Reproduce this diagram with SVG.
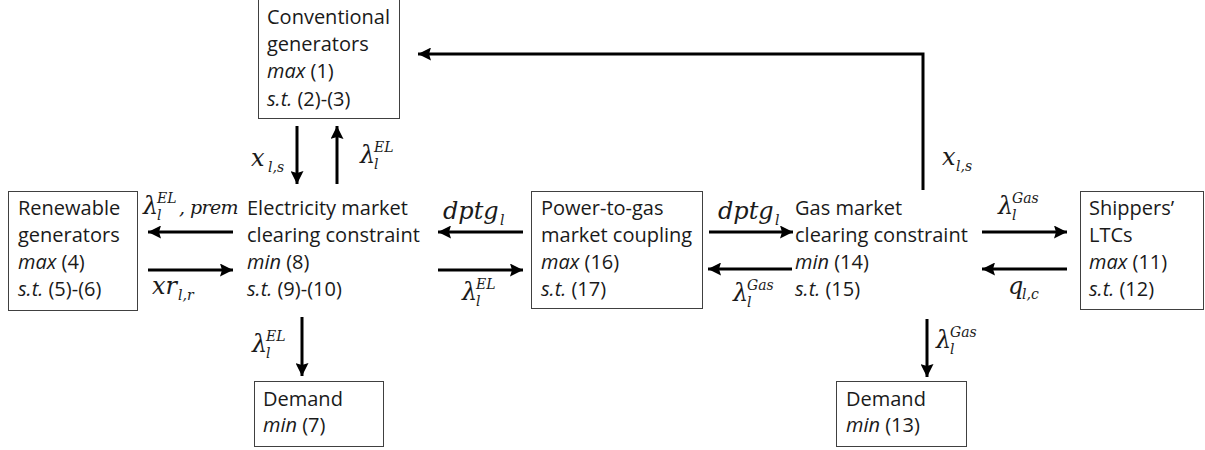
<svg xmlns="http://www.w3.org/2000/svg" width="1205" height="450" viewBox="0 0 1205 450">
  <style>
    .box { fill: #ffffff; stroke: #404040; stroke-width: 1; }
    .t { font-family: "Open Sans", "Liberation Sans", sans-serif; font-size: 20px; fill: #1a1a1a; }
    .i { font-style: italic; }
    .m { font-family: "DejaVu Serif", "Liberation Serif", serif; font-style: italic; font-size: 24px; fill: #1a1a1a; }
    .s { font-size: 14px; }
    .arrow { fill: none; stroke: #000000; stroke-width: 3; marker-end: url(#head); }
  </style>
  <defs>
    <marker id="head" markerUnits="userSpaceOnUse" markerWidth="14" markerHeight="13" refX="13" refY="6.5" orient="auto">
      <path d="M0,0 L13,6.5 L0,13 L2,6.5 z" fill="#000000"/>
    </marker>
  </defs>
  <rect width="1205" height="450" fill="#ffffff"/>

  <!-- connectors -->
  <g id="connectors">
    <line class="arrow" x1="297" y1="126" x2="297" y2="184"/>
    <line class="arrow" x1="337" y1="184" x2="337" y2="126"/>
    <line class="arrow" x1="233" y1="232" x2="148" y2="232"/>
    <line class="arrow" x1="148" y1="270" x2="233" y2="270"/>
    <line class="arrow" x1="523" y1="232" x2="438" y2="232"/>
    <line class="arrow" x1="438" y1="270" x2="523" y2="270"/>
    <line class="arrow" x1="709" y1="232" x2="793" y2="232"/>
    <line class="arrow" x1="792" y1="269" x2="708" y2="269"/>
    <line class="arrow" x1="982" y1="232" x2="1067" y2="232"/>
    <line class="arrow" x1="1067" y1="269" x2="982" y2="269"/>
    <line class="arrow" x1="302" y1="317" x2="302" y2="376"/>
    <line class="arrow" x1="927" y1="319" x2="927" y2="377"/>
    <polyline class="arrow" points="923,190 923,54 418,54"/>

    <!-- connector labels -->
    <text class="m" x="251" y="166" font-size="27">x<tspan class="s" x="268" y="172">l,s</tspan></text>
    <text class="m" x="360" y="163">λ<tspan class="s" x="374" y="152">EL</tspan><tspan class="s" x="374" y="169">l</tspan></text>
    <text class="m" x="143" y="214">λ<tspan class="s" x="157" y="203">EL</tspan><tspan class="s" x="157" y="220">l</tspan><tspan x="179" y="214" font-size="19" letter-spacing="-0.6">, prem</tspan></text>
    <text class="m" x="152" y="294">xr<tspan class="s" x="178" y="300">l,r</tspan></text>
    <text class="m" x="443" y="219">dptg<tspan class="s" x="500" y="225">l</tspan></text>
    <text class="m" x="462" y="300">λ<tspan class="s" x="476" y="289">EL</tspan><tspan class="s" x="476" y="306">l</tspan></text>
    <text class="m" x="718" y="219">dptg<tspan class="s" x="775" y="225">l</tspan></text>
    <text class="m" x="733" y="301">λ<tspan class="s" x="747" y="290">Gas</tspan><tspan class="s" x="747" y="307">l</tspan></text>
    <text class="m" x="998" y="214">λ<tspan class="s" x="1012" y="203">Gas</tspan><tspan class="s" x="1012" y="220">l</tspan></text>
    <text class="m" x="1008" y="294">q<tspan class="s" x="1022" y="299">l,c</tspan></text>
    <text class="m" x="942" y="165">x<tspan class="s" x="956" y="171">l,s</tspan></text>
    <text class="m" x="252" y="352">λ<tspan class="s" x="266" y="341">EL</tspan><tspan class="s" x="266" y="358">l</tspan></text>
    <text class="m" x="936" y="348">λ<tspan class="s" x="950" y="337">Gas</tspan><tspan class="s" x="950" y="354">l</tspan></text>
  </g>

  <!-- nodes -->
  <g id="conventional-generators">
    <rect class="box" x="258.5" y="-0.5" width="141" height="119"/>
    <text class="t" x="267" y="24">Conventional</text>
    <text class="t" x="267" y="51">generators</text>
    <text class="t" x="267" y="78"><tspan class="i">max</tspan> (1)</text>
    <text class="t" x="267" y="106"><tspan class="i">s.t.</tspan> (2)-(3)</text>
  </g>

  <g id="renewable-generators">
    <rect class="box" x="8.5" y="191.5" width="129" height="119"/>
    <text class="t" x="18" y="215">Renewable</text>
    <text class="t" x="18" y="242">generators</text>
    <text class="t" x="18" y="269"><tspan class="i">max</tspan> (4)</text>
    <text class="t" x="18" y="296"><tspan class="i">s.t.</tspan> (5)-(6)</text>
  </g>

  <g id="electricity-market">
    <text class="t" x="247" y="215">Electricity market</text>
    <text class="t" x="247" y="242">clearing constraint</text>
    <text class="t" x="247" y="269"><tspan class="i">min</tspan> (8)</text>
    <text class="t" x="247" y="296"><tspan class="i">s.t.</tspan> (9)-(10)</text>
  </g>

  <g id="power-to-gas">
    <rect class="box" x="531.5" y="191.5" width="171" height="117"/>
    <text class="t" x="541" y="215">Power-to-gas</text>
    <text class="t" x="541" y="242">market coupling</text>
    <text class="t" x="541" y="269"><tspan class="i">max</tspan> (16)</text>
    <text class="t" x="541" y="296"><tspan class="i">s.t.</tspan> (17)</text>
  </g>

  <g id="gas-market">
    <text class="t" x="795" y="215">Gas market</text>
    <text class="t" x="795" y="242">clearing constraint</text>
    <text class="t" x="795" y="269"><tspan class="i">min</tspan> (14)</text>
    <text class="t" x="795" y="296"><tspan class="i">s.t.</tspan> (15)</text>
  </g>

  <g id="shippers-ltcs">
    <rect class="box" x="1080.5" y="191.5" width="123" height="118"/>
    <text class="t" x="1089" y="215">Shippers’</text>
    <text class="t" x="1089" y="242">LTCs</text>
    <text class="t" x="1089" y="269"><tspan class="i">max</tspan> (11)</text>
    <text class="t" x="1089" y="296"><tspan class="i">s.t.</tspan> (12)</text>
  </g>

  <g id="electricity-demand">
    <rect class="box" x="254.5" y="381.5" width="129" height="65"/>
    <text class="t" x="263" y="406">Demand</text>
    <text class="t" x="263" y="432"><tspan class="i">min</tspan> (7)</text>
  </g>

  <g id="gas-demand">
    <rect class="box" x="836.5" y="381.5" width="130" height="65"/>
    <text class="t" x="846" y="406">Demand</text>
    <text class="t" x="846" y="432"><tspan class="i">min</tspan> (13)</text>
  </g>
</svg>
